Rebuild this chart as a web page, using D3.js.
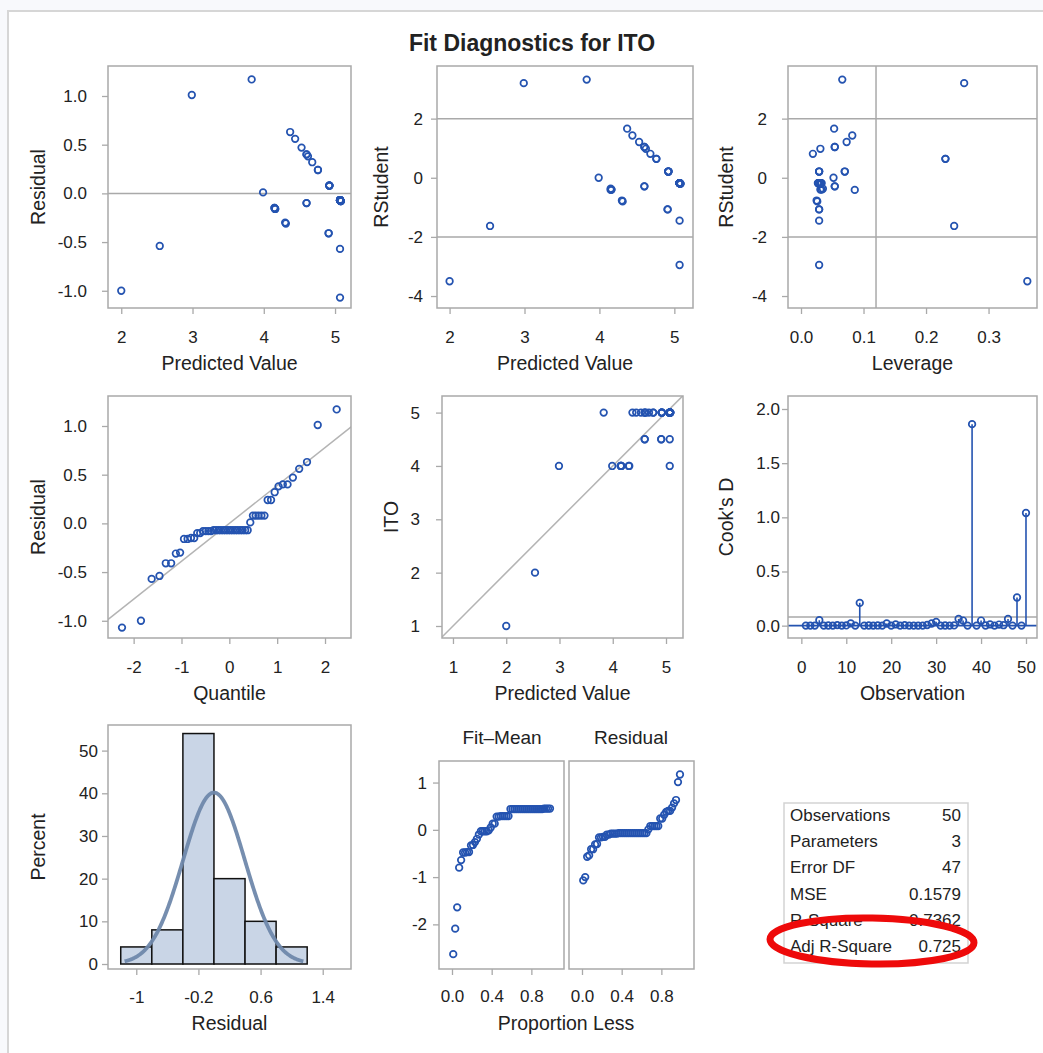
<!DOCTYPE html>
<html>
<head>
<meta charset="utf-8">
<script src="https://cdn.jsdelivr.net/npm/d3@7"></script>
<style>
  body { margin: 0; background: #f8f9fc; }
  text { font-family: Arial, "Liberation Sans", sans-serif; fill: #222; }
</style>
</head>
<body>
<svg id="chart" width="1043" height="1053"></svg>
<script>
// Fit diagnostics, 50 observations in observation order
var obsPred = [5.07, 5.07, 4.92, 4.37, 5.08, 4.16, 5.07, 4.30, 5.07, 4.60,
               5.07, 5.08, 3.83, 5.07, 4.92, 5.07, 4.15, 5.07, 4.60, 5.07,
               4.91, 5.08, 4.68, 5.07, 3.99, 5.07, 4.92, 4.31, 4.60, 4.53,
               5.07, 4.16, 5.07, 4.60, 4.44, 4.76, 5.07, 2.00, 5.08, 4.76,
               4.92, 4.91, 5.07, 4.62, 4.15, 5.07, 5.07, 2.54, 4.92, 2.99];
var obsITO = [5, 5, 5, 5, 5, 4, 5, 4, 5, 4.5,
              4.5, 5, 5, 5, 5, 5, 4, 5, 5, 5,
              4.5, 5, 5, 5, 4, 5, 5, 4, 5, 5,
              5, 4, 5, 4.5, 5, 5, 5, 1, 5, 5,
              5, 4.5, 5, 5, 4, 4, 5, 2, 5, 4];
var obsResid = [-0.07, -0.07, 0.08, 0.63, -0.08, -0.16, -0.07, -0.30, -0.07, -0.10,
                -0.57, -0.08, 1.17, -0.07, 0.08, -0.07, -0.15, -0.07, 0.40, -0.07,
                -0.41, -0.08, 0.32, -0.07, 0.01, -0.07, 0.08, -0.31, 0.40, 0.47,
                -0.07, -0.16, -0.07, -0.10, 0.56, 0.24, -0.07, -1.00, -0.08, 0.24,
                0.08, -0.41, -0.07, 0.38, -0.15, -1.07, -0.07, -0.54, 0.08, 1.01];
var obsRStudent = [-0.18, -0.18, 0.21, 1.66, -0.20, -0.40, -0.18, -0.77, -0.18, -0.29,
                   -1.45, -0.20, 3.32, -0.18, 0.21, -0.18, -0.37, -0.19, 1.04, -0.18,
                   -1.07, -0.20, 0.81, -0.18, 0.00, -0.18, 0.21, -0.80, 1.04, 1.21,
                   -0.18, -0.40, -0.18, -0.29, 1.43, 0.64, -0.18, -3.50, -0.20, 0.64,
                   0.21, -1.07, -0.18, 0.98, -0.41, -2.95, -0.18, -1.63, 0.21, 3.20];
var obsLeverage = [0.028, 0.030, 0.029, 0.053, 0.031, 0.033, 0.029, 0.025, 0.032, 0.054,
                   0.029, 0.028, 0.066, 0.030, 0.070, 0.027, 0.035, 0.031, 0.054, 0.029,
                   0.029, 0.030, 0.019, 0.033, 0.052, 0.028, 0.029, 0.026, 0.054, 0.073,
                   0.030, 0.031, 0.029, 0.054, 0.082, 0.231, 0.031, 0.362, 0.032, 0.231,
                   0.070, 0.029, 0.028, 0.031, 0.086, 0.029, 0.030, 0.245, 0.029, 0.261];
var obsCooksD = [0.0005, 0.0005, 0.0007, 0.050, 0.0007, 0.0015, 0.0005, 0.005, 0.0005, 0.002,
                 0.021, 0.0006, 0.21, 0.0005, 0.0012, 0.0004, 0.0017, 0.0005, 0.020, 0.0005,
                 0.011, 0.0006, 0.004, 0.0006, 0.0, 0.0005, 0.0007, 0.006, 0.020, 0.035,
                 0.0005, 0.0014, 0.0005, 0.002, 0.062, 0.047, 0.0005, 1.86, 0.0007, 0.047,
                 0.0012, 0.011, 0.0005, 0.010, 0.004, 0.062, 0.0005, 0.26, 0.0007, 1.04];

// histogram of residuals
var histEdges = [-1.2, -0.8, -0.4, 0, 0.4, 0.8, 1.2];
var histPercent = [4, 8, 54, 20, 10, 4];

// fit statistics
var statLabels = ["Observations", "Parameters", "Error DF", "MSE", "R-Square", "Adj R-Square"];
var statValues = ["50", "3", "47", "0.1579", "0.7362", "0.725"];

var MSE = 0.1579;
var residSD = 0.389;     // slope of the Q-Q reference line
var nParams = 3;

var svg = d3.select("#chart");
var W = 1043, H = 1053;
var frameColor = "#a9a9a9";
var markColor = "#2453b0";

svg.append("rect").attr("width", W).attr("height", H).attr("fill", "#f8f9fc");
svg.append("rect").attr("x", 8).attr("y", 11).attr("width", W).attr("height", H)
  .attr("fill", "#fff").attr("stroke", "#d6d6d6").attr("stroke-width", 2);

svg.append("text").attr("x", 532).attr("y", 51).attr("text-anchor", "middle")
  .style("font-size", "23px").style("font-weight", "bold").text("Fit Diagnostics for ITO");

var f0 = function(d) { return String(d); };
var f1 = function(d) { return d.toFixed(1); };

var clipN = 0;
function styleAxis(a) {
  a.select(".domain").remove();
  a.selectAll(".tick line").attr("stroke", frameColor).attr("stroke-width", 1.3);
  a.selectAll(".tick text").attr("fill", "#222").style("font-size", "17px");
}

function panel(o) {
  var x = d3.scaleLinear().domain(o.xDomain).range([o.left, o.right]);
  var y = d3.scaleLinear().domain(o.yDomain).range([o.bottom, o.top]);
  var g = svg.append("g");
  var id = "clip" + (clipN++);
  svg.append("clipPath").attr("id", id).append("rect")
    .attr("x", o.left).attr("y", o.top)
    .attr("width", o.right - o.left).attr("height", o.bottom - o.top);

  if (o.xTicks) {
    var ax = g.append("g").attr("transform", "translate(0," + o.bottom + ")")
      .call(d3.axisBottom(x).tickValues(o.xTicks).tickFormat(o.xFormat).tickSize(6)
        .tickPadding(o.xLabelY - o.bottom - 6 - 0.35 * 17));
    styleAxis(ax);
  }
  if (o.yTicks) {
    var ay = g.append("g").attr("transform", "translate(" + o.left + ",0)")
      .call(d3.axisLeft(y).tickValues(o.yTicks).tickFormat(o.yFormat).tickSize(6)
        .tickPadding(o.left - 6 - o.yLabelRight));
    styleAxis(ay);
  }

  var lines = g.append("g").attr("clip-path", "url(#" + id + ")");
  g.append("rect").attr("x", o.left).attr("y", o.top)
    .attr("width", o.right - o.left).attr("height", o.bottom - o.top)
    .attr("fill", "none").attr("stroke", frameColor).attr("stroke-width", 1.5);
  var marks = g.append("g");

  if (o.xTitle) {
    g.append("text").attr("x", o.xTitleX || (o.left + o.right) / 2).attr("y", o.xTitleY)
      .attr("dy", "0.35em").attr("text-anchor", "middle").style("font-size", "19.5px").text(o.xTitle);
  }
  if (o.yTitle) {
    g.append("text")
      .attr("transform", "translate(" + o.yTitleX + "," + (o.top + o.bottom) / 2 + ") rotate(-90)")
      .attr("dy", "0.35em").attr("text-anchor", "middle").style("font-size", "19.5px").text(o.yTitle);
  }
  return { x: x, y: y, lines: lines, marks: marks };
}

function hline(p, v, color, w) {
  p.lines.append("line").attr("x1", p.x.range()[0]).attr("x2", p.x.range()[1])
    .attr("y1", p.y(v)).attr("y2", p.y(v)).attr("stroke", color || frameColor).attr("stroke-width", w || 1.5);
}
function vline(p, v) {
  p.lines.append("line").attr("y1", p.y.range()[0]).attr("y2", p.y.range()[1])
    .attr("x1", p.x(v)).attr("x2", p.x(v)).attr("stroke", frameColor).attr("stroke-width", 1.5);
}
function dots(p, xs, ys) {
  p.marks.selectAll("circle.pt").data(xs).enter().append("circle").attr("class", "pt")
    .attr("cx", function(d) { return p.x(d); })
    .attr("cy", function(d, i) { return p.y(ys[i]); })
    .attr("r", 3.3).attr("fill", "none").attr("stroke", markColor).attr("stroke-width", 1.7);
}

// ---- row 1 ----
var p1 = panel({ left: 108, right: 351, top: 66, bottom: 308,
  xDomain: [1.814, 5.224], yDomain: [-1.177, 1.308],
  xTicks: [2, 3, 4, 5], xFormat: f0, yTicks: [-1, -0.5, 0, 0.5, 1], yFormat: f1,
  xLabelY: 337, yLabelRight: 87, xTitle: "Predicted Value", xTitleY: 363,
  yTitle: "Residual", yTitleX: 38 });
hline(p1, 0);
dots(p1, obsPred, obsResid);

var p2 = panel({ left: 437, right: 693, top: 66, bottom: 308,
  xDomain: [1.832, 5.249], yDomain: [-4.405, 3.78],
  xTicks: [2, 3, 4, 5], xFormat: f0, yTicks: [-4, -2, 0, 2], yFormat: f0,
  xLabelY: 337, yLabelRight: 423, xTitle: "Predicted Value", xTitleY: 363,
  yTitle: "RStudent", yTitleX: 381 });
hline(p2, 2); hline(p2, -2);
dots(p2, obsPred, obsRStudent);

var p3 = panel({ left: 788, right: 1037, top: 66, bottom: 308,
  xDomain: [-0.0208, 0.3775], yDomain: [-4.405, 3.78],
  xTicks: [0, 0.1, 0.2, 0.3], xFormat: f1, yTicks: [-4, -2, 0, 2], yFormat: f0,
  xLabelY: 337, yLabelRight: 767, xTitle: "Leverage", xTitleY: 363,
  yTitle: "RStudent", yTitleX: 726 });
hline(p3, 2); hline(p3, -2);
vline(p3, 2 * nParams / obsPred.length);
dots(p3, obsLeverage, obsRStudent);

// ---- row 2 ----
function qnorm(p) {
  var a = [-39.69683028665376, 220.9460984245205, -275.9285104469687, 138.3577518672690, -30.66479806614716, 2.506628277459239];
  var b = [-54.47609879822406, 161.5858368580409, -155.6989798598866, 66.80131188771972, -13.28068155288572];
  var c = [-0.007784894002430293, -0.3223964580411365, -2.400758277161838, -2.549732539343734, 4.374664141464968, 2.938163982698783];
  var d = [0.007784695709041462, 0.3224671290700398, 2.445134137142996, 3.754408661907416];
  var q, r;
  if (p < 0.02425 || p > 0.97575) {
    q = Math.sqrt(-2 * Math.log(p < 0.5 ? p : 1 - p));
    var v = (((((c[0] * q + c[1]) * q + c[2]) * q + c[3]) * q + c[4]) * q + c[5]) /
            ((((d[0] * q + d[1]) * q + d[2]) * q + d[3]) * q + 1);
    return p < 0.5 ? v : -v;
  }
  q = p - 0.5; r = q * q;
  return (((((a[0] * r + a[1]) * r + a[2]) * r + a[3]) * r + a[4]) * r + a[5]) * q /
         (((((b[0] * r + b[1]) * r + b[2]) * r + b[3]) * r + b[4]) * r + 1);
}
var n = obsResid.length;
var sortedResid = obsResid.slice().sort(d3.ascending);
var plotPos = sortedResid.map(function(d, i) { return (i + 1 - 0.375) / (n + 0.25); });
var quant = plotPos.map(qnorm);

var p4 = panel({ left: 108, right: 351, top: 396, bottom: 638,
  xDomain: [-2.536, 2.543], yDomain: [-1.177, 1.308],
  xTicks: [-2, -1, 0, 1, 2], xFormat: f0, yTicks: [-1, -0.5, 0, 0.5, 1], yFormat: f1,
  xLabelY: 667, yLabelRight: 87, xTitle: "Quantile", xTitleY: 693,
  yTitle: "Residual", yTitleX: 38 });
p4.lines.append("line").attr("x1", p4.x(-3)).attr("x2", p4.x(3))
  .attr("y1", p4.y(-3 * residSD)).attr("y2", p4.y(3 * residSD))
  .attr("stroke", "#b4b4b4").attr("stroke-width", 1.5);
dots(p4, quant, sortedResid);

var p5 = panel({ left: 442, right: 683, top: 396, bottom: 638,
  xDomain: [0.794, 5.319], yDomain: [0.775, 5.311],
  xTicks: [1, 2, 3, 4, 5], xFormat: f0, yTicks: [1, 2, 3, 4, 5], yFormat: f0,
  xLabelY: 667, yLabelRight: 420, xTitle: "Predicted Value", xTitleY: 693,
  yTitle: "ITO", yTitleX: 391 });
p5.lines.append("line").attr("x1", p5.x(0)).attr("x2", p5.x(6))
  .attr("y1", p5.y(0)).attr("y2", p5.y(6)).attr("stroke", "#b4b4b4").attr("stroke-width", 1.5);
dots(p5, obsPred, obsITO);

var obsIndex = d3.range(1, n + 1);
var p6 = panel({ left: 788, right: 1037, top: 396, bottom: 638,
  xDomain: [-2.97, 52.45], yDomain: [-0.114, 2.12],
  xTicks: [0, 10, 20, 30, 40, 50], xFormat: f0, yTicks: [0, 0.5, 1, 1.5, 2], yFormat: f1,
  xLabelY: 667, yLabelRight: 780, xTitle: "Observation", xTitleY: 693,
  yTitle: "Cook's D", yTitleX: 726 });
hline(p6, 4 / n, frameColor, 1.5);
hline(p6, 0, markColor, 1.6);
p6.marks.selectAll("line.needle").data(obsCooksD).enter().append("line").attr("class", "needle")
  .attr("x1", function(d, i) { return p6.x(obsIndex[i]); })
  .attr("x2", function(d, i) { return p6.x(obsIndex[i]); })
  .attr("y1", p6.y(0)).attr("y2", function(d) { return p6.y(d); })
  .attr("stroke", markColor).attr("stroke-width", 1.6);
dots(p6, obsIndex, obsCooksD);

// ---- row 3 ----
var p7 = panel({ left: 108, right: 351, top: 725, bottom: 969,
  xDomain: [-1.364, 1.764], yDomain: [-1.17, 56],
  xTicks: [-1, -0.2, 0.6, 1.4], xFormat: f0, yTicks: [0, 10, 20, 30, 40, 50], yFormat: f0,
  xLabelY: 997, yLabelRight: 98, xTitle: "Residual", xTitleY: 1023,
  yTitle: "Percent", yTitleX: 38 });
p7.marks.selectAll("rect.bar").data(histPercent).enter().append("rect").attr("class", "bar")
  .attr("x", function(d, i) { return p7.x(histEdges[i]); })
  .attr("width", function(d, i) { return p7.x(histEdges[i + 1]) - p7.x(histEdges[i]); })
  .attr("y", function(d) { return p7.y(d); })
  .attr("height", function(d) { return p7.y(0) - p7.y(d); })
  .attr("fill", "#c9d5e6").attr("stroke", "#111").attr("stroke-width", 1.5);
var sigma = Math.sqrt(MSE), binW = 0.4;
var curveX = d3.range(-1.15, 1.1501, 0.01);
p7.marks.append("path")
  .attr("d", d3.line()
    .x(function(d) { return p7.x(d); })
    .y(function(d) { return p7.y(100 * binW * Math.exp(-0.5 * d * d / (sigma * sigma)) / (sigma * Math.sqrt(2 * Math.PI))); })
    (curveX))
  .attr("fill", "none").attr("stroke", "#6f88ab").attr("stroke-width", 3.8).attr("stroke-opacity", 0.95);

// residual-fit spread plot
var meanITO = d3.mean(obsITO);
var sortedFit = obsPred.map(function(d) { return d - meanITO; }).sort(d3.ascending);
var rfDomainY = [-2.944, 1.456], rfDomainX = [-0.131, 1.129];
var p8a = panel({ left: 439, right: 564, top: 761, bottom: 969,
  xDomain: rfDomainX, yDomain: rfDomainY,
  xTicks: [0, 0.4, 0.8], xFormat: f1, yTicks: [-2, -1, 0, 1], yFormat: f0,
  xLabelY: 996, yLabelRight: 427 });
dots(p8a, plotPos, sortedFit);
var p8b = panel({ left: 569, right: 694, top: 761, bottom: 969,
  xDomain: rfDomainX, yDomain: rfDomainY,
  xTicks: [0, 0.4, 0.8], xFormat: f1, xLabelY: 996 });
dots(p8b, plotPos, sortedResid);
svg.append("text").attr("x", 566).attr("y", 1023).attr("dy", "0.35em").attr("text-anchor", "middle")
  .style("font-size", "19.5px").text("Proportion Less");
svg.append("text").attr("x", 502).attr("y", 737).attr("dy", "0.35em").attr("text-anchor", "middle")
  .style("font-size", "19px").text("Fit\u2013Mean");
svg.append("text").attr("x", 631).attr("y", 737).attr("dy", "0.35em").attr("text-anchor", "middle")
  .style("font-size", "19px").text("Residual");

// fit statistics table
var tbl = svg.append("g");
tbl.append("rect").attr("x", 784).attr("y", 803).attr("width", 184).attr("height", 160)
  .attr("fill", "#fff").attr("stroke", "#d3d3d3").attr("stroke-width", 1.5);
var rowY = d3.scaleLinear().domain([0, 5]).range([821, 952]);
tbl.selectAll("text.lab").data(statLabels).enter().append("text").attr("class", "lab")
  .attr("x", 790).attr("y", function(d, i) { return rowY(i); })
  .style("font-size", "17px").text(function(d) { return d; });
tbl.selectAll("text.val").data(statValues).enter().append("text").attr("class", "val")
  .attr("x", 961).attr("y", function(d, i) { return rowY(i); }).attr("text-anchor", "end")
  .style("font-size", "17px").text(function(d) { return d; });

// red highlight ellipse
svg.append("ellipse").attr("cx", 872).attr("cy", 941).attr("rx", 102).attr("ry", 23)
  .attr("transform", "rotate(1,872,941)")
  .attr("fill", "none").attr("stroke", "#ee0a0a").attr("stroke-width", 7);
</script>
</body>
</html>
